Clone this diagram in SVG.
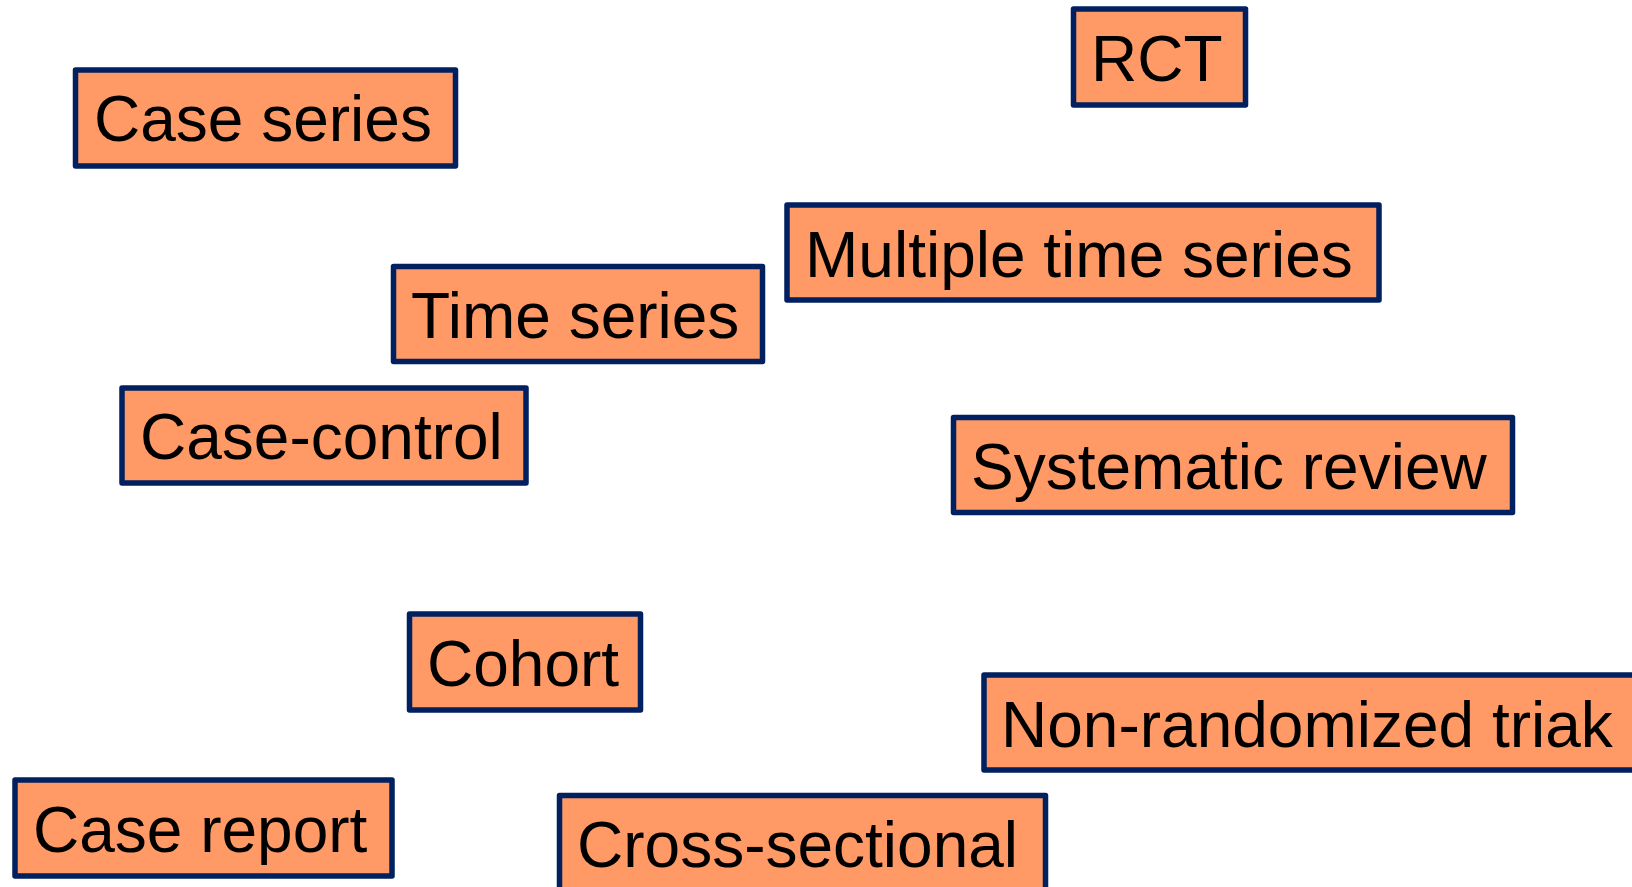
<svg xmlns="http://www.w3.org/2000/svg" width="1632" height="887" viewBox="0 0 1632 887">
  <style>
    .box { fill: #FF9966; stroke: #002060; stroke-width: 5.5; stroke-linejoin: round; }
    .label { font-family: "Liberation Sans", Arial, sans-serif; font-size: 64px; fill: #000000; }
  </style>
  <rect width="1632" height="887" fill="#FFFFFF"/>

  <g id="case-series">
    <rect class="box" x="75.5" y="70" width="380" height="96"/>
    <text class="label" x="94" y="141">Case series</text>
  </g>

  <g id="rct">
    <rect class="box" x="1073.5" y="9" width="172" height="96"/>
    <text class="label" x="1091" y="81">RCT</text>
  </g>

  <g id="multiple-time-series">
    <rect class="box" x="787" y="205" width="592" height="95"/>
    <text class="label" x="805" y="277">Multiple time series</text>
  </g>

  <g id="time-series">
    <rect class="box" x="393.5" y="266.5" width="369" height="95"/>
    <text class="label" x="411" y="338">Time series</text>
  </g>

  <g id="case-control">
    <rect class="box" x="122" y="388" width="404" height="95"/>
    <text class="label" x="140" y="459">Case-control</text>
  </g>

  <g id="systematic-review">
    <rect class="box" x="953.5" y="417.5" width="559" height="95"/>
    <text class="label" x="971" y="489">Systematic review</text>
  </g>

  <g id="cohort">
    <rect class="box" x="409.5" y="614" width="231" height="96"/>
    <text class="label" x="427" y="686">Cohort</text>
  </g>

  <g id="non-randomized-trial">
    <rect class="box" x="984" y="675" width="700" height="95"/>
    <text class="label" x="1001" y="747">Non-randomized triak</text>
  </g>

  <g id="case-report">
    <rect class="box" x="15" y="780" width="377" height="96"/>
    <text class="label" x="33" y="852">Case report</text>
  </g>

  <g id="cross-sectional">
    <rect class="box" x="559.5" y="795.5" width="486" height="100"/>
    <text class="label" x="577" y="867">Cross-sectional</text>
  </g>

  <g id="connectors"/>
</svg>
